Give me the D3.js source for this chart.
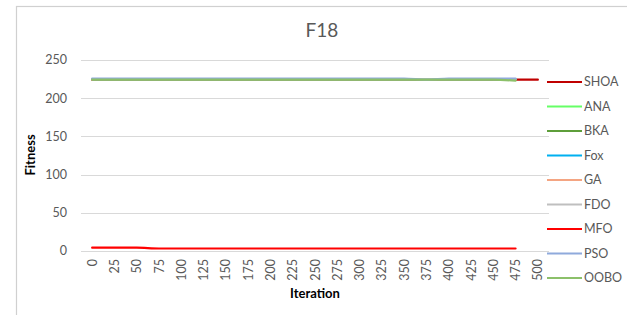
<!DOCTYPE html>
<html><head><meta charset="utf-8">
<script src="https://cdn.jsdelivr.net/npm/d3@7"></script>
<style>body{margin:0;background:#fff;}svg{display:block;font-family:Lato,"Open Sans",sans-serif;}</style>
</head><body>
<svg id="c" width="627" height="315"></svg>
<script>
const iterations = [0,25,50,75,100,125,150,175,200,225,250,275,300,325,350,375,400,425,450,475,500];
const yTicks = [0,50,100,150,200,250];
const seriesNames = ["SHOA","ANA","BKA","Fox","GA","FDO","MFO","PSO","OOBO"];
const seriesColors = ["#C00000","#66FF66","#5E9E3A","#00B0F0","#F4A582","#BFBFBF","#FF0000","#8FAADC","#8CC06A"];
const SHOA = [224.3,224.3,224.3,224.3,224.3,224.3,224.3,224.3,224.3,224.3,224.3,224.3,224.3,224.3,224.3,224.3,224.3,224.3,224.3,224.3,224.3];
const ANA  = [225,225,225,225,225,225,225,225,225,225,225,225,225,225,225,225,225,225,225,225];
const BKA  = [225,225,225,225,225,225,225,225,225,225,225,225,225,225,225,225,225,225,225,225];
const Fox  = [225,225,225,225,225,225,225,225,225,225,225,225,225,225,225,225,225,225,225,225];
const GA   = [225,225,225,225,225,225,225,225,225,225,225,225,225,225,225,225,225,225,225,225];
const FDO  = [225,225,225,225,225,225,225,225,225,225,225,225,225,225,225,225,225,225,225,225];
const MFO  = [4.3,4.3,4.3,3.3,3.3,3.3,3.3,3.3,3.3,3.3,3.3,3.3,3.3,3.3,3.3,3.3,3.3,3.3,3.3,3.3];
const PSO  = [225.8,225.8,225.8,225.8,225.8,225.8,225.8,225.8,225.8,225.8,225.8,225.8,225.8,225.8,225.8,224.4,225.8,225.8,225.8,225.8];
const OOBO = [224.2,224.2,224.2,224.2,224.2,224.2,224.2,224.2,224.2,224.2,224.2,224.2,224.2,224.2,224.2,224.2,224.2,224.2,224.2,223];
const seriesData = [SHOA,ANA,BKA,Fox,GA,FDO,MFO,PSO,OOBO];

const svg = d3.select("#c");
// chart frame
svg.append("rect").attr("x",16.5).attr("y",6.5).attr("width",640).attr("height",340)
  .attr("fill","#fff").attr("stroke","#D0D0D0").attr("stroke-width",1.2);

const pLeft = 81, pRight = 549, pTop = 60, pBottom = 251;
const x = d3.scalePoint().domain(iterations).range([pLeft, pRight]).padding(0.5);
const y = d3.scaleLinear().domain([0,250]).range([pBottom, pTop]);

// gridlines
svg.append("g").selectAll("line").data(yTicks).join("line")
  .attr("x1",pLeft).attr("x2",pRight).attr("y1",d=>Math.round(y(d))+0.5).attr("y2",d=>Math.round(y(d))+0.5)
  .attr("stroke","#D9D9D9").attr("stroke-width",1);

// y tick labels
svg.append("g").selectAll("text").data(yTicks).join("text")
  .attr("x",67).attr("y",d=>y(d)).attr("dy","0.35em").attr("text-anchor","end")
  .attr("fill","#595959").attr("font-size",12.5).text(d=>d);

// x tick labels rotated
svg.append("g").selectAll("text").data(iterations).join("text")
  .attr("transform",d=>`translate(${x(d)+4.5},${259}) rotate(-90)`)
  .attr("text-anchor","end").attr("fill","#595959").attr("font-size",12.5).text(d=>d);

// lines
const line = d3.line().x((d,i)=>x(iterations[i])).y(d=>y(d)).curve(d3.curveMonotoneX);
seriesData.forEach((s,k)=>{
  svg.append("path").datum(s).attr("d",line).attr("fill","none")
    .attr("stroke",seriesColors[k]).attr("stroke-width",2.2).attr("stroke-linecap","round");
});

// title
svg.append("text").attr("x",322).attr("y",37).attr("text-anchor","middle")
  .attr("fill","#595959").attr("font-size",19).text("F18");

// axis titles
svg.append("text").attr("transform","translate(35,155) rotate(-90)").attr("text-anchor","middle")
  .attr("font-weight","bold").attr("font-size",13).attr("fill","#000").text("Fitness");
svg.append("text").attr("x",315).attr("y",298).attr("text-anchor","middle")
  .attr("font-weight","bold").attr("font-size",13).attr("fill","#000").text("Iteration");

// legend
const lg = svg.append("g");
seriesNames.forEach((n,i)=>{
  const yy = 82 + i*24.5;
  lg.append("line").attr("x1",547).attr("x2",582).attr("y1",yy).attr("y2",yy)
    .attr("stroke",seriesColors[i]).attr("stroke-width",2.2);
  lg.append("text").attr("x",584).attr("y",yy).attr("dy","0.35em")
    .attr("fill","#595959").attr("font-size",12.5).text(n);
});
</script>
</body></html>
